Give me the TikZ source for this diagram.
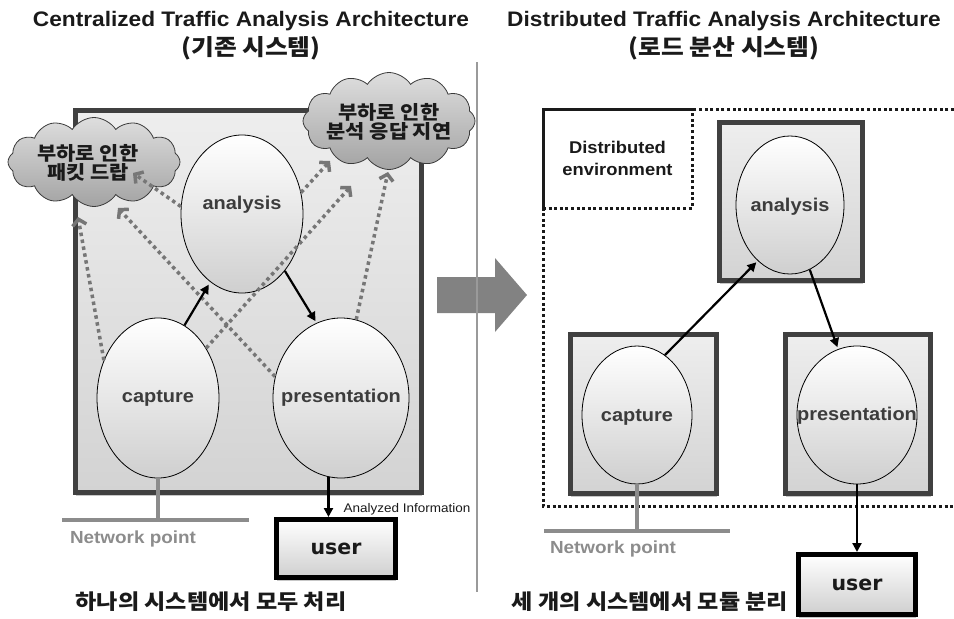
\documentclass[tikz,border=0pt]{standalone}
\usepackage{fontspec}
\setmainfont{Liberation Sans}[FakeStretch=1.08]
\newfontfamily\kr{Noto Sans CJK KR}[FakeStretch=1.1]
\newfontfamily\userfont{DejaVu Sans}
\usetikzlibrary{shapes.geometric,shapes.symbols,arrows.meta,shadows}

\definecolor{boxedge}{HTML}{404040}
\definecolor{boxtop}{HTML}{EEEEEE}
\definecolor{boxbot}{HTML}{D3D3D3}
\definecolor{ellbot}{HTML}{CFCFCF}
\definecolor{cloudtop}{HTML}{DEDEDE}
\definecolor{cloudbot}{HTML}{A3A3A3}
\definecolor{cloudedge}{HTML}{3A3A3A}
\definecolor{dotgray}{HTML}{767676}
\definecolor{netgray}{HTML}{8C8C8C}
\definecolor{bigarrow}{HTML}{828282}
\definecolor{divider}{HTML}{9A9A9A}
\definecolor{lblgray}{HTML}{3C3C3C}
\definecolor{ink}{HTML}{1A1A1A}

\tikzset{
  sysbox/.style={draw=boxedge, line width=5pt, top color=boxtop, bottom color=boxbot,
    drop shadow={shadow xshift=0pt, shadow yshift=-3pt, fill=black, opacity=0.22}},
  ell/.style={ellipse, draw=black, line width=0.8pt, top color=white, bottom color=ellbot, inner sep=0pt},
  ltxt/.style={font=\fontsize{18.5}{20}\selectfont\bfseries, text=lblgray},
  cloudnode/.style={cloud, cloud puffs=12, cloud puff arc=115, aspect=1.9, draw=cloudedge,
    line width=0.8pt, top color=cloudtop, bottom color=cloudbot, inner sep=0pt},
  cloudtxt/.style={font=\kr\bfseries\fontsize{19}{19.5}\selectfont, text=ink, align=center},
  title/.style={font=\fontsize{21}{24}\selectfont\bfseries, text=ink},
  titlekr/.style={font=\kr\bfseries\fontsize{22.5}{24}\selectfont, text=ink},
  bottomkr/.style={font=\kr\bfseries\fontsize{21}{22}\selectfont, text=ink},
  dotarrow/.style={draw=dotgray, line width=3.5pt, dash pattern=on 3.5pt off 3.5pt,
    -{Straight Barb[length=6pt,width=14pt]}},
  solidarrow/.style={draw=black, line width=2.2pt, -{Triangle[length=9pt,width=9pt]}},
  netline/.style={draw=netgray, line width=4pt},
  nettxt/.style={font=\fontsize{17.5}{20}\selectfont\bfseries, text=netgray},
  userbox/.style={draw=black, line width=5pt, top color=white, bottom color=ellbot,
    font=\userfont\bfseries\fontsize{20.5}{24}\selectfont, text=ink,
    drop shadow={shadow xshift=0pt, shadow yshift=-3pt, fill=black, opacity=0.22}},
  envline/.style={draw=ink, line width=3pt, dash pattern=on 3pt off 2.6pt},
  envtxt/.style={font=\fontsize{17}{22}\selectfont\bfseries, text=ink, align=center}
}

\begin{document}
\begin{tikzpicture}[x=1pt,y=-1pt]
\useasboundingbox (0,0) rectangle (954,619);

% headings
\node[title] (headL) at (251,21) {Centralized Traffic Analysis Architecture};
\node[titlekr] (headLk) at (251,48) {(기존 시스템)};
\node[title] (headR) at (724,21) {Distributed Traffic Analysis Architecture};
\node[titlekr] (headRk) at (724,48) {(로드 분산 시스템)};

% transition arrow and divider
\fill[bigarrow] (437,277) -- (495,277) -- (495,258) -- (527,295) -- (495,332) -- (495,313) -- (437,313) -- cycle;
\draw[divider, line width=2.5pt] (477,62) -- (477,592);

% ---------- centralized system ----------
\draw[sysbox] (75.5,110.5) rectangle (421.5,492.5);

\node[ell, minimum width=122pt, minimum height=158pt,
      label={[ltxt,yshift=9pt]center:analysis}] (anaL) at (242,214) {};
\node[ell, minimum width=122pt, minimum height=160pt,
      label={[ltxt]center:capture}] (capL) at (158,398) {};
\node[ell, minimum width=136pt, minimum height=160pt,
      label={[ltxt]center:presentation}] (preL) at (341,398) {};

\node[cloudnode, minimum width=172pt, minimum height=89pt] (cloudA) at (94,162) {};
\node[cloudtxt] (cloudAt) at (88,163) {부하로 인한\\패킷 드랍};
\node[cloudnode, minimum width=172pt, minimum height=97pt] (cloudB) at (389,121) {};
\node[cloudtxt] (cloudBt) at (389,122) {부하로 인한\\분석 응답 지연};

% overload indications
\coordinate (tipA1) at (78,217);
\coordinate (tipA2) at (118,208);
\coordinate (tipA3) at (133,173);
\coordinate (tipB1) at (330,161);
\coordinate (tipB2) at (351,186);
\coordinate (tipB3) at (388,172);
\draw[dotarrow] (capL.145) -- (tipA1);
\draw[dotarrow] (preL.162) -- (tipA2);
\draw[dotarrow] (anaL.173) -- (tipA3);
\draw[dotarrow] (anaL.20) -- (tipB1);
\draw[dotarrow] (capL.46) -- (tipB2);
\draw[dotarrow] (preL.79) -- (tipB3);

% data flow
\draw[solidarrow, shorten >=3pt] (capL.70) -- (anaL.245);
\draw[solidarrow, shorten >=2pt] (anaL.-53) -- (preL.108);

% network attachment
\coordinate (netLa) at (62,520);
\coordinate (netLb) at (249,520);
\draw[netline] (netLa) -- (netLb);
\draw[netline] (capL.south) -- (capL.south |- netLa);
\node[nettxt] (netLt) at (133,539) {Network point};

% user
\node[userbox, minimum width=119pt, minimum height=58pt] (userL) at (336,548.5) {user};
\draw[solidarrow] (preL.261) -- (preL.261 |- userL.north);
\node[font=\fontsize{12.5}{14}\selectfont, text=ink] (infoL) at (407,509) {Analyzed Information};

\node[bottomkr] (sumL) at (211,602) {하나의 시스템에서 모두 처리};

% ---------- distributed system ----------
\draw[envline] (954,109) -- (543,109) -- (543,506) -- (954,506);
\node[envline, envtxt, minimum width=149pt, minimum height=99pt] (env) at (617.5,158.5)
  {Distributed\\environment};

\draw[sysbox] (719.5,122.5) rectangle (862.5,280.5);
\draw[sysbox] (570.5,334.5) rectangle (716.5,493.5);
\draw[sysbox] (785.5,334.5) rectangle (930.5,493.5);

\node[ell, minimum width=108pt, minimum height=138pt,
      label={[ltxt,yshift=-2pt]center:analysis}] (anaR) at (790,205) {};
\node[ell, minimum width=110pt, minimum height=138pt,
      label={[ltxt,yshift=-2pt]center:capture}] (capR) at (637,415) {};
\node[ell, minimum width=120pt, minimum height=138pt,
      label={[ltxt,yshift=-1pt]center:presentation}] (preR) at (857,415) {};

\draw[solidarrow, shorten >=2pt] (capR.65) -- (anaR.-120);
\draw[solidarrow, shorten >=2pt] (anaR.-73) -- (preR.106);

\coordinate (netRa) at (544,531);
\coordinate (netRb) at (730,531);
\draw[netline] (netRa) -- (netRb);
\draw[netline] (capR.south) -- (capR.south |- netRa);
\node[nettxt] (netRt) at (613,549) {Network point};

\node[userbox, minimum width=117pt, minimum height=60pt] (userR) at (857,584.5) {user};
\draw[solidarrow] (preR.south) -- (preR.south |- userR.north);

\node[bottomkr] (sumR) at (650,602) {세 개의 시스템에서 모듈 분리};
\end{tikzpicture}
\end{document}
